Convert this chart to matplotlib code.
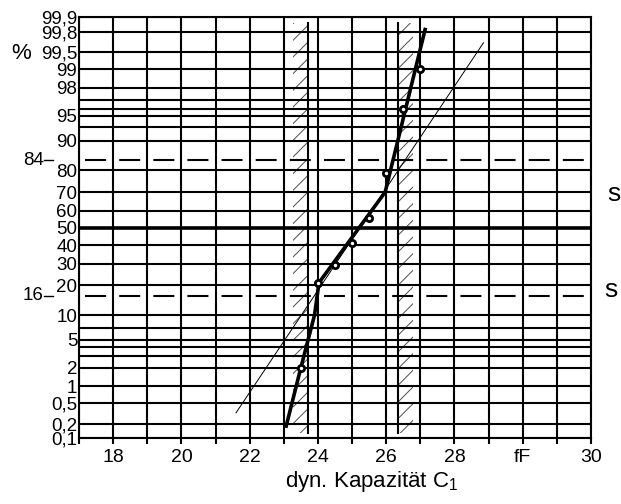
import numpy as np
import matplotlib
import matplotlib.pyplot as plt
from matplotlib.ticker import NullLocator
from statistics import NormalDist

matplotlib.use("Agg")

plt.rcParams["font.family"] = ["Liberation Sans", "DejaVu Sans"]
plt.rcParams["mathtext.fontset"] = "custom"
plt.rcParams["mathtext.rm"] = "Liberation Sans"
plt.rcParams["mathtext.it"] = "Liberation Sans:italic"
plt.rcParams["hatch.linewidth"] = 0.7
plt.rcParams["lines.scale_dashes"] = False

# Probability grid (percent) and labels
gridPercent = [0.1, 0.2, 0.5, 1, 2, 3, 4, 5, 7, 10, 20, 30, 40, 50, 60, 70, 80,
               90, 93, 95, 96, 97, 98, 99, 99.5, 99.8, 99.9]
gridLabels = ["0,1", "0,2", "0,5", "1", "2", "", "", "5", "", "10", "20", "30", "40", "50", "60", "70", "80",
              "90", "", "95", "", "", "98", "99", "99,5", "99,8", "99,9"]
sigmaPercent = [16, 84]
sigmaLabels = ["16", "84"]

# Capacitance axis (fF)
xTicks = list(range(17, 33))
xTickLabels = ["", "18", "", "20", "", "22", "", "24", "", "26", "", "28", "", "fF", "", "30"]

# Measured cumulative frequencies
measuredC = [23.5, 24.0, 24.5, 25.0, 25.5, 26.0, 26.5, 27.0]
measuredP = [2, 21, 29, 41, 56, 79, 96, 99]

# Hand drawn sum curve through the points
curveC = [23.07, 23.5, 23.9, 24.03, 25.97, 27.14]
curveP = [0.18, 2, 10, 21, 70, 99.82]

# Normal distribution line (thin)
fitC = [21.6, 28.85]
fitP = [0.33, 99.67]

# Tolerance bands (hatched)
bandLow = [23.27, 23.70]
bandHigh = [26.355, 26.79]
bandP = [0.13, 99.87]

nd = NormalDist()


def probit(p):
    p = np.clip(np.asarray(p, dtype=float), 1e-4, 100 - 1e-4)
    return np.vectorize(lambda v: nd.inv_cdf(v / 100), otypes=[float])(p)


def probitInv(z):
    z = np.asarray(z, dtype=float)
    return np.vectorize(lambda v: nd.cdf(v) * 100, otypes=[float])(z)


fig = plt.figure(figsize=(6.21, 5.04), dpi=100)
ax = fig.add_axes([79 / 621, 1 - 438.3 / 504, 512 / 621, 421 / 504])
ax.set_yscale("function", functions=(probit, probitInv))
ax.set_xlim(17, 32)
ax.set_ylim(0.1, 99.9)

lw = 1.5

# Grid
ax.set_yticks(gridPercent)
ax.set_yticklabels(gridLabels)
ax.yaxis.set_minor_locator(NullLocator())
ax.set_xticks(xTicks)
ax.set_xticklabels(xTickLabels)
ax.grid(True, color="black", linewidth=lw)
ax.tick_params(axis="y", length=0, pad=1.2, labelsize=13.5)
ax.tick_params(axis="x", direction="out", length=4.0, width=lw, pad=3.5, labelsize=14)
for sp in ax.spines.values():
    sp.set_linewidth(lw)

# 50 % line
ax.axhline(50, color="black", linewidth=2.6)

# +-s lines
for p in sigmaPercent:
    ax.plot([17, 32], [p, p], color="black", linewidth=lw,
            linestyle=(20.2, (15.1, 9.47)))

# hatched bands
for band, lineX in [(bandLow, bandLow[1]), (bandHigh, bandHigh[0])]:
    ax.fill_betweenx(bandP, band[0], band[1], facecolor="none", edgecolor="0.3",
                     hatch="//", linewidth=0)
    ax.plot([lineX, lineX], bandP, color="black", linewidth=lw)

# normal line
ax.plot(fitC, fitP, color="black", linewidth=0.7)

# sum curve and points
ax.plot(curveC, curveP, color="black", linewidth=2.6, solid_joinstyle="round")
ax.plot(measuredC, measuredP, "o", markersize=4.5, markerfacecolor="white",
        markeredgecolor="black", markeredgewidth=2.0)

# labels for 16 / 84 outside axes
for p, lab in zip(sigmaPercent, sigmaLabels):
    ax.text(-0.069, p, lab, transform=ax.get_yaxis_transform(), ha="right", va="center",
            fontsize=13.5)
    ax.plot([-0.069, -0.051], [p, p], transform=ax.get_yaxis_transform(), color="black",
            linewidth=1.0, clip_on=False)

fig.text(21 / 621, 1 - 53.5 / 504, "%", ha="center", va="center", fontsize=16)
fig.text(614 / 621, 1 - 194 / 504, "s", ha="center", va="center", fontsize=19)
fig.text(611 / 621, 1 - 290 / 504, "s", ha="center", va="center", fontsize=19)
fig.text(372 / 621, 1 - 482 / 504, "dyn. Kapazität C$_1$", ha="center", va="center", fontsize=16)

fig.savefig("out.png", dpi=100)
